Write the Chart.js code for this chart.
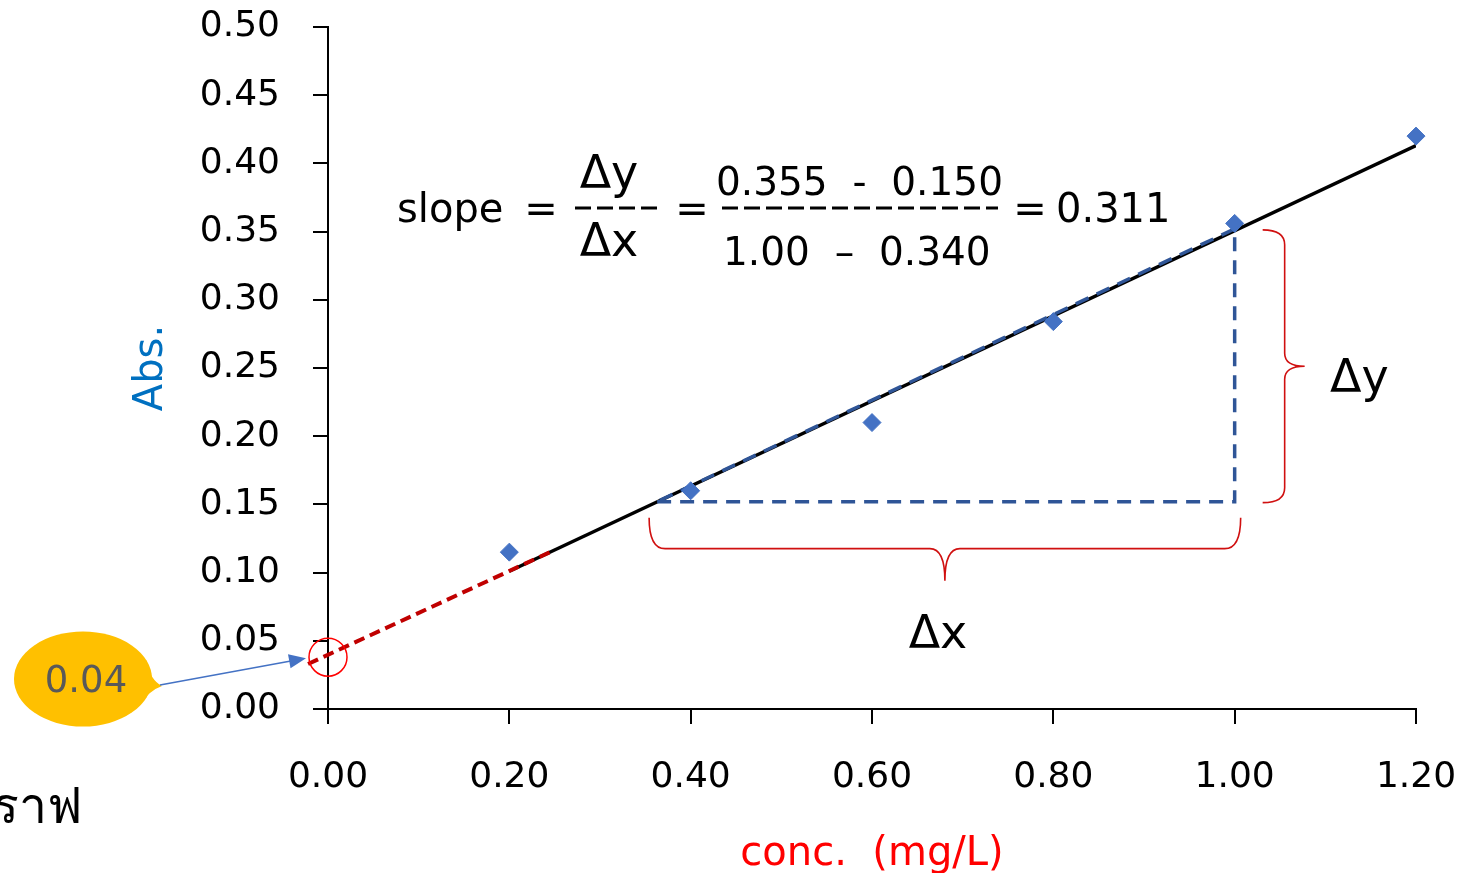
<!DOCTYPE html>
<html>
<head>
<meta charset="utf-8">
<script src="https://cdn.jsdelivr.net/npm/chart.js@4.4.1/dist/chart.umd.min.js"></script>
<style>
  html, body { margin: 0; padding: 0; background: #fff; }
  #wrap { width: 1465px; height: 873px; }
</style>
</head>
<body>
<div id="wrap"><canvas id="calib"></canvas></div>
<script>
// measured points
const concX = [0.20, 0.40, 0.60, 0.80, 1.00, 1.20];
const absY = [0.115, 0.160, 0.210, 0.284, 0.356, 0.420];

// least squares line as drawn in the picture
const trendX = [0.20, 1.20];
const trendY = [0.101, 0.413];

// red dashed extrapolation to the y axis
const extX = [-0.022, 0.245];
const extY = [0.033, 0.115];

// blue slope triangle
const triX = [0.363, 1.00, 1.00, 0.363];
const triY = [0.152, 0.152, 0.352, 0.152];

// intercept mark
const icptX = [0];
const icptY = [0.038];

const xTicks = [0, 0.2, 0.4, 0.6, 0.8, 1.0, 1.2];
const yTicks = [0, 0.05, 0.1, 0.15, 0.2, 0.25, 0.3, 0.35, 0.4, 0.45, 0.5];

function pts(xa, ya) {
  return xa.map((x, i) => ({ x: x, y: ya[i] }));
}

const FONT = '"DejaVu Sans"';

const overlay = {
  id: 'overlay',
  afterDraw(chart) {
    const ctx = chart.ctx;
    const xs = chart.scales.x, ys = chart.scales.y;
    ctx.save();

    // braces
    ctx.strokeStyle = '#d01010';
    ctx.lineWidth = 1.6;
    let x0 = xs.getPixelForValue(triX[0]) - 8;
    let x1 = xs.getPixelForValue(triX[1]) + 6;
    let yTop = ys.getPixelForValue(triY[0]) + 16;
    let yMid = yTop + 31, yTip = yTop + 63, xm = (x0 + x1) / 2;
    ctx.beginPath();
    ctx.moveTo(x0, yTop);
    ctx.quadraticCurveTo(x0, yMid, x0 + 16, yMid);
    ctx.lineTo(xm - 15, yMid);
    ctx.quadraticCurveTo(xm, yMid, xm, yTip);
    ctx.quadraticCurveTo(xm, yMid, xm + 15, yMid);
    ctx.lineTo(x1 - 16, yMid);
    ctx.quadraticCurveTo(x1, yMid, x1, yTop);
    ctx.stroke();

    let bx0 = xs.getPixelForValue(1.0) + 28;
    let bx = bx0 + 22;
    let by0 = ys.getPixelForValue(triY[2]) + 1;
    let by1 = ys.getPixelForValue(triY[0]) + 1;
    let bym = (by0 + by1) / 2;
    ctx.beginPath();
    ctx.moveTo(bx0, by0);
    ctx.quadraticCurveTo(bx, by0, bx, by0 + 15);
    ctx.lineTo(bx, bym - 13);
    ctx.quadraticCurveTo(bx, bym, bx + 20, bym);
    ctx.quadraticCurveTo(bx, bym, bx, bym + 13);
    ctx.lineTo(bx, by1 - 15);
    ctx.quadraticCurveTo(bx, by1, bx0, by1);
    ctx.stroke();

    // delta labels
    ctx.fillStyle = '#000';
    ctx.font = '46px ' + FONT;
    ctx.textBaseline = 'alphabetic';
    ctx.textAlign = 'left';
    ctx.fillText('Δy', 1330, 392);
    ctx.textAlign = 'center';
    ctx.fillText('Δx', 938, 648);

    // slope formula
    ctx.font = '40px ' + FONT;
    ctx.textAlign = 'left';
    ctx.fillText('slope', 397, 222);
    ctx.textAlign = 'center';
    ctx.fillText('=', 541, 222);
    ctx.fillText('=', 692, 222);
    ctx.font = '46px ' + FONT;
    ctx.fillText('Δy', 609, 188);
    ctx.fillText('Δx', 609, 256);
    ctx.font = '39px ' + FONT;
    ctx.textAlign = 'left';
    ctx.fillText('0.355  -  0.150', 716, 195);
    ctx.fillText('1.00  –  0.340', 723, 265);
    ctx.font = '40px ' + FONT;
    ctx.textAlign = 'center';
    ctx.fillText('=', 1030, 222);
    ctx.textAlign = 'left';
    ctx.fillText('0.311', 1056, 222);

    ctx.strokeStyle = '#000';
    ctx.lineWidth = 3;
    ctx.setLineDash([16, 6]);
    ctx.beginPath();
    ctx.moveTo(575, 208); ctx.lineTo(662, 208);
    ctx.moveTo(722, 208); ctx.lineTo(998, 208);
    ctx.stroke();
    ctx.setLineDash([]);

    // callout bubble
    ctx.fillStyle = '#ffc000';
    ctx.beginPath();
    ctx.ellipse(83, 679, 69, 47.5, 0, 0, Math.PI * 2);
    ctx.fill();
    ctx.beginPath();
    ctx.moveTo(146, 660);
    ctx.quadraticCurveTo(150, 680, 162, 686);
    ctx.quadraticCurveTo(150, 690, 138, 706);
    ctx.closePath();
    ctx.fill();
    ctx.fillStyle = '#595959';
    ctx.font = '37px ' + FONT;
    ctx.textAlign = 'center';
    ctx.fillText('0.04', 86, 692);

    // arrow to intercept
    let tx = xs.getPixelForValue(icptX[0]) - 22, ty = ys.getPixelForValue(icptY[0]) + 1;
    let sx = 160, sy = 685;
    let ang = Math.atan2(ty - sy, tx - sx);
    ctx.strokeStyle = '#4472c4';
    ctx.fillStyle = '#4472c4';
    ctx.lineWidth = 1.5;
    ctx.beginPath();
    ctx.moveTo(sx, sy);
    ctx.lineTo(tx - 14 * Math.cos(ang), ty - 14 * Math.sin(ang));
    ctx.stroke();
    ctx.beginPath();
    ctx.moveTo(tx, ty);
    ctx.lineTo(tx - 17 * Math.cos(ang) + 7 * Math.sin(ang), ty - 17 * Math.sin(ang) - 7 * Math.cos(ang));
    ctx.lineTo(tx - 17 * Math.cos(ang) - 7 * Math.sin(ang), ty - 17 * Math.sin(ang) + 7 * Math.cos(ang));
    ctx.closePath();
    ctx.fill();

    // cut off caption at lower left
    ctx.fillStyle = '#000';
    ctx.font = '50px "Noto Sans", ' + FONT;
    ctx.textAlign = 'right';
    ctx.fillText('กราฟ', 82, 823);

    ctx.restore();
  }
};

new Chart(document.getElementById('calib'), {
  type: 'scatter',
  data: {
    datasets: [
      {
        data: pts(concX, absY),
        pointStyle: 'rectRot',
        pointRadius: 9,
        pointBackgroundColor: '#4472c4',
        pointBorderColor: '#4472c4',
        pointBorderWidth: 1,
        showLine: false,
        clip: false
      },
      {
        data: pts(icptX, icptY),
        pointStyle: 'circle',
        pointRadius: 19,
        pointBackgroundColor: 'rgba(0,0,0,0)',
        pointBorderColor: '#ff0000',
        pointBorderWidth: 1.5,
        clip: false
      },
      {
        data: pts(triX, triY),
        showLine: true,
        borderColor: '#2f5597',
        borderWidth: 3.5,
        borderDash: [14, 9],
        pointRadius: 0,
        tension: 0
      },
      {
        data: pts(extX, extY),
        showLine: true,
        borderColor: '#c00000',
        borderWidth: 4,
        borderDash: [11, 6],
        pointRadius: 0,
        clip: false
      },
      {
        data: pts(trendX, trendY),
        showLine: true,
        borderColor: '#000',
        borderWidth: 3.5,
        pointRadius: 0
      }
    ]
  },
  options: {
    responsive: true,
    maintainAspectRatio: false,
    animation: false,
    layout: { padding: { left: 0, right: 49, top: 27, bottom: 0 } },
    plugins: { legend: { display: false }, tooltip: { enabled: false } },
    scales: {
      x: {
        type: 'linear',
        min: 0, max: 1.2,
        afterBuildTicks: s => { s.ticks = xTicks.map(v => ({ value: v })); },
        afterFit: s => { s.height = 164; s.paddingLeft = 0; s.paddingRight = 0; },
        ticks: {
          color: '#000',
          font: { family: FONT, size: 36 },
          padding: 32,
          callback: v => v.toFixed(2)
        },
        grid: { drawOnChartArea: false, drawTicks: true, tickLength: 15, color: '#000', lineWidth: 2 },
        border: { color: '#000', width: 2 },
        title: {
          display: true,
          text: 'conc.  (mg/L)',
          color: '#ff0000',
          font: { family: FONT, size: 40 },
          padding: { top: 0, bottom: -6 }
        }
      },
      y: {
        type: 'linear',
        min: 0, max: 0.5,
        afterBuildTicks: s => { s.ticks = yTicks.map(v => ({ value: v })); },
        afterFit: s => { s.width = 328; s.paddingTop = 0; s.paddingBottom = 0; },
        ticks: {
          color: '#000',
          font: { family: FONT, size: 36 },
          padding: 33,
          callback: v => v.toFixed(2)
        },
        grid: { drawOnChartArea: false, drawTicks: true, tickLength: 15, color: '#000', lineWidth: 2 },
        border: { color: '#000', width: 2 },
        title: {
          display: true,
          text: 'Abs.',
          color: '#0070c0',
          font: { family: FONT, size: 40 },
          padding: { top: 128, bottom: 0 }
        }
      }
    }
  },
  plugins: [overlay]
});
</script>
</body>
</html>
